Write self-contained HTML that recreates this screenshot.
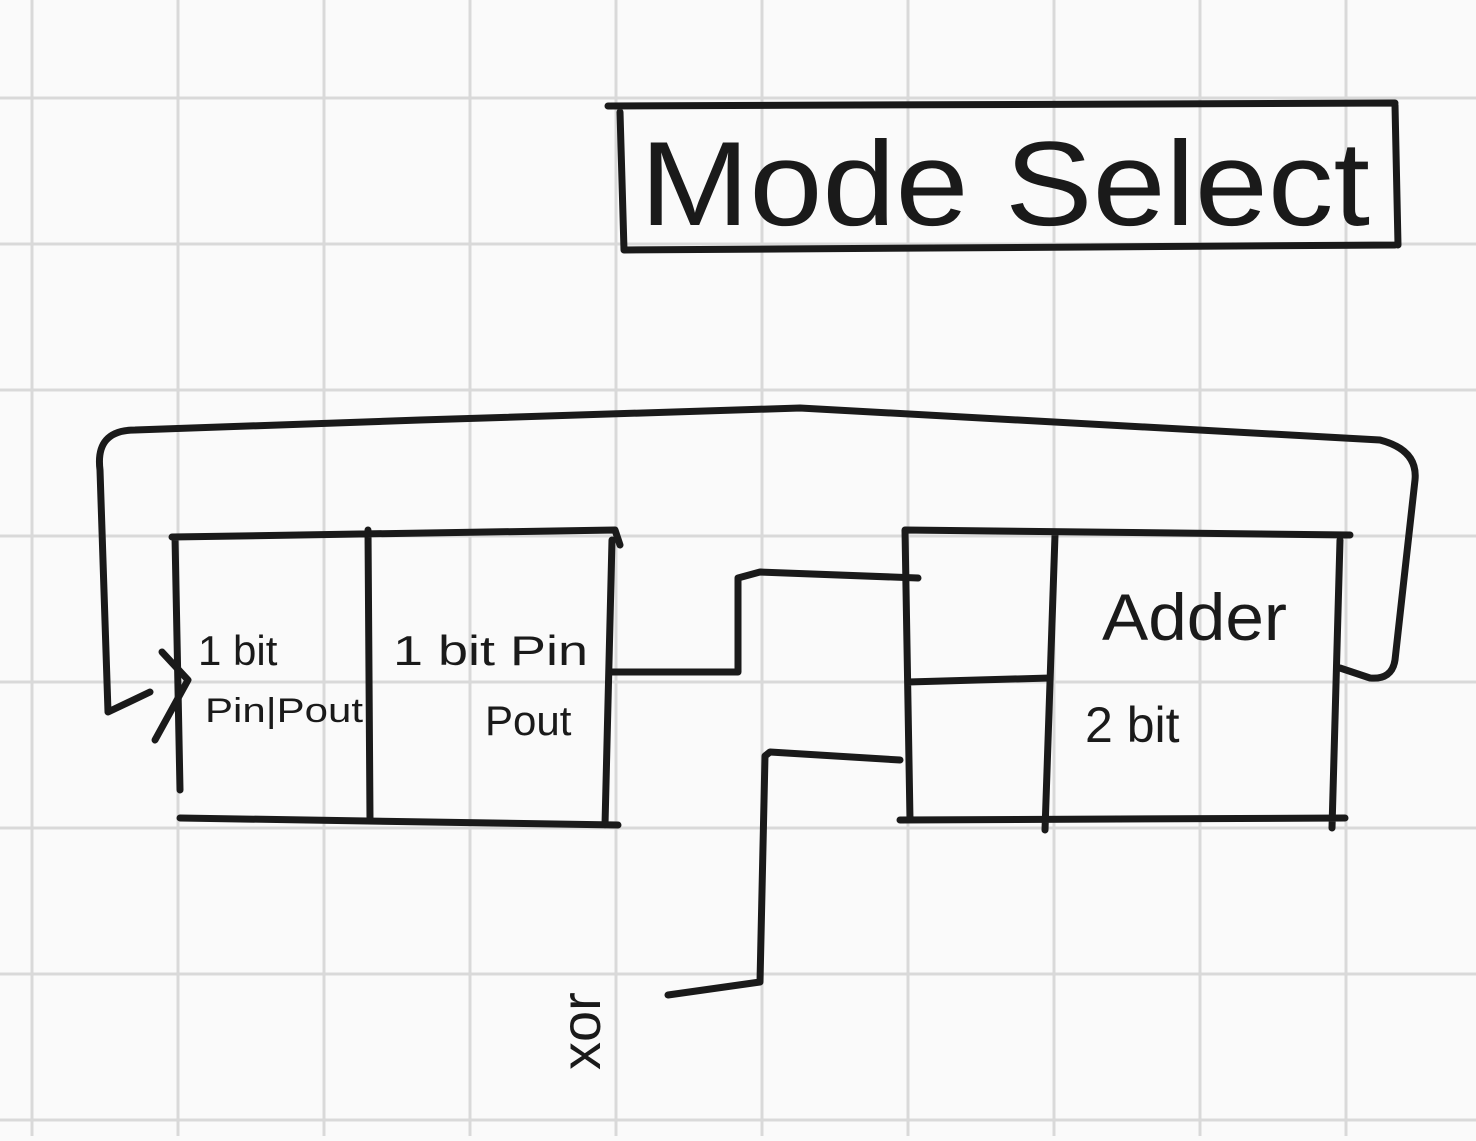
<!DOCTYPE html>
<html><head><style>html,body{margin:0;padding:0;background:#fafafa}</style></head><body>
<svg width="1476" height="1136" viewBox="0 0 1476 1136" xmlns="http://www.w3.org/2000/svg">
<rect width="1476" height="1136" fill="#fafafa"/>
<g stroke="#d9d9d9" stroke-width="3">
<line x1="32" y1="0" x2="32" y2="1136"/><line x1="178" y1="0" x2="178" y2="1136"/><line x1="324" y1="0" x2="324" y2="1136"/><line x1="470" y1="0" x2="470" y2="1136"/><line x1="616" y1="0" x2="616" y2="1136"/><line x1="762" y1="0" x2="762" y2="1136"/><line x1="908" y1="0" x2="908" y2="1136"/><line x1="1054" y1="0" x2="1054" y2="1136"/><line x1="1200" y1="0" x2="1200" y2="1136"/><line x1="1346" y1="0" x2="1346" y2="1136"/>
<line x1="0" y1="98" x2="1476" y2="98"/><line x1="0" y1="244" x2="1476" y2="244"/><line x1="0" y1="390" x2="1476" y2="390"/><line x1="0" y1="536" x2="1476" y2="536"/><line x1="0" y1="682" x2="1476" y2="682"/><line x1="0" y1="828" x2="1476" y2="828"/><line x1="0" y1="974" x2="1476" y2="974"/><line x1="0" y1="1120" x2="1476" y2="1120"/>
</g>
<g stroke="#1a1a1a" stroke-width="7" fill="none" stroke-linecap="round" stroke-linejoin="round">
<path d="M608,106 L1395,103 M620,112 L624,250 M624,250 L1395,245 M1395,105 L1398,245"/>
<path d="M108,712 L150,692 M108,712 L100,470 Q95,430 135,430 L420,420 L800,408 L1380,440 Q1418,450 1415,480 L1395,660 Q1392,680 1370,678 L1340,668"/>
<path d="M155,740 L188,680 L162,652"/>
<path d="M172,537 L615,530 L620,545 M175,537 L180,790 M180,818 L618,825 M368,530 L370,820 M612,540 L605,825"/>
<path d="M612,672 L738,672 L738,578 L760,572 L918,578"/>
<path d="M900,760 L770,752 L765,756 L760,982 L668,995"/>
<path d="M905,530 L1350,535 M905,530 L910,820 M908,682 L1050,678 M1055,535 L1045,830 M900,820 L1345,818 M1340,540 L1332,828"/>
</g>
<g fill="#1a1a1a" font-family="Liberation Sans, sans-serif">
<text x="640" y="225" font-size="120" textLength="730" lengthAdjust="spacingAndGlyphs">Mode Select</text>
<text x="198" y="665" font-size="42">1 bit</text>
<text x="205" y="722" font-size="34" textLength="158" lengthAdjust="spacingAndGlyphs">Pin|Pout</text>
<text x="393" y="665" font-size="42" textLength="195" lengthAdjust="spacingAndGlyphs">1 bit Pin</text>
<text x="485" y="735" font-size="42">Pout</text>
<text x="1102" y="640" font-size="66" textLength="185" lengthAdjust="spacingAndGlyphs">Adder</text>
<text x="1085" y="742" font-size="50">2 bit</text>
<text transform="translate(600,1070) rotate(-90)" font-size="56">xor</text>
</g>
</svg>
</body></html>
